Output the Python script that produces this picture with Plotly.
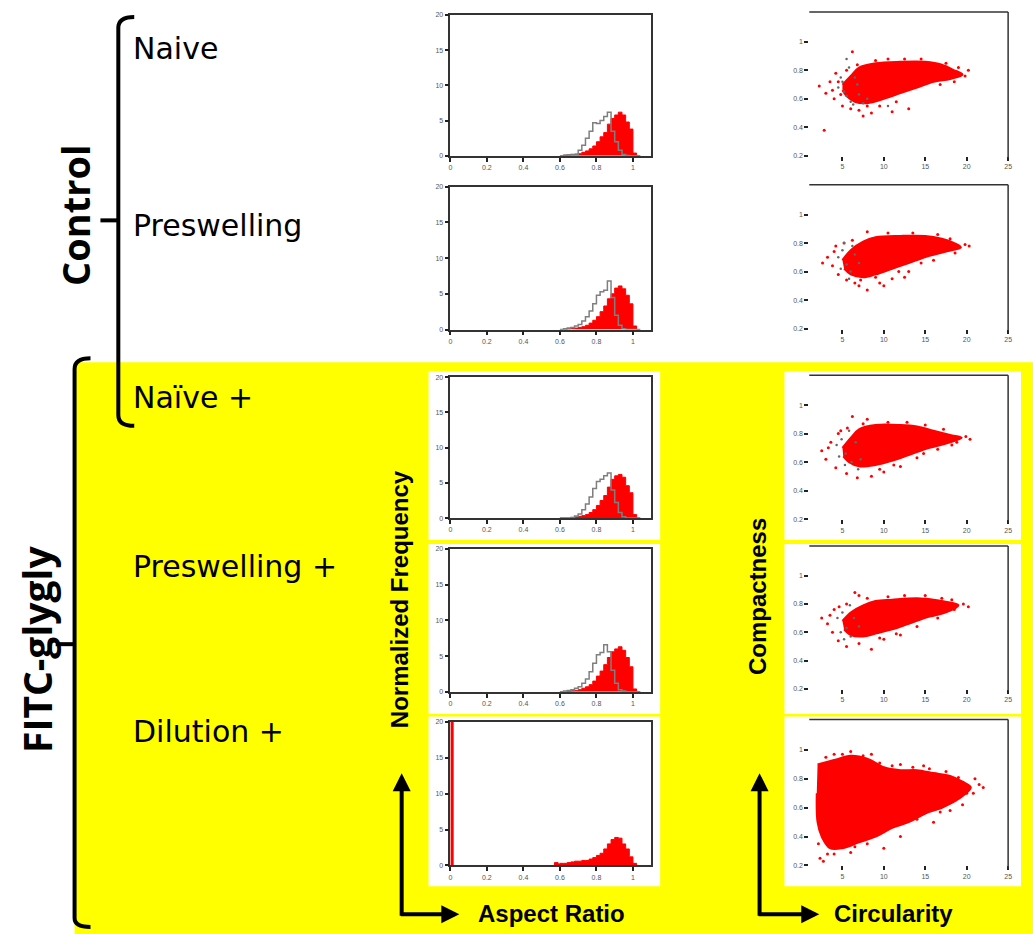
import plotly.graph_objects as go

W, H = 1033, 934

# ---------------- data ----------------
row_labels = ["Naive", "Preswelling", "Naïve +", "Preswelling +", "Dilution +"]
group_labels = ["Control", "FITC-glygly"]
hist_xticks = [0, 0.2, 0.4, 0.6, 0.8, 1]
hist_xtext = ["0", "0.2", "0.4", "0.6", "0.8", "1"]
hist_yticks = [0, 5, 10, 15, 20]
scat_xticks = [5, 10, 15, 20, 25]
scat_yticks = [0.2, 0.4, 0.6, 0.8, 1]
scat_ytext = ["0.2", "0.4", "0.6", "0.8", "1"]

# aspect ratio histogram bin edges (panels 1-4)
ar_edges = [0.60, 0.62, 0.64, 0.66, 0.68, 0.70, 0.72, 0.74, 0.76, 0.78, 0.80, 0.82,
            0.84, 0.86, 0.88, 0.90, 0.92, 0.94, 0.96, 0.98, 1.00, 1.02, 1.04]

naive_red = [0.0, 0.1, 0.15, 0.2, 0.25, 0.3, 0.5, 0.7, 1.0, 1.4, 2.0, 2.7, 3.3, 4.5, 5.3, 5.8, 6.2, 5.8, 4.8, 3.8, 0.4, 0.0]
naive_gray = [0.0, 0.1, 0.15, 0.2, 0.2, 0.8, 1.5, 2.5, 3.5, 4.7, 4.6, 5.0, 5.6, 6.2, 3.5, 2.0, 0.8, 0.2, 0.05, 0.0, 0.0, 0.0]
presw_red = [0.0, 0.0, 0.1, 0.15, 0.2, 0.3, 0.4, 0.6, 0.9, 1.3, 1.8, 2.5, 3.3, 4.3, 5.0, 5.8, 6.1, 5.7, 4.8, 3.6, 0.5, 0.0]
presw_gray = [0.0, 0.1, 0.2, 0.3, 0.5, 0.7, 1.2, 1.8, 2.6, 3.6, 4.8, 5.3, 5.5, 6.8, 4.5, 2.0, 0.6, 0.1, 0.0, 0.0, 0.0, 0.0]
naivep_red = [0.0, 0.0, 0.0, 0.1, 0.15, 0.25, 0.35, 0.5, 0.8, 1.2, 1.8, 2.5, 3.2, 4.4, 5.5, 6.0, 6.2, 5.8, 4.6, 3.6, 0.5, 0.0]
naivep_gray = [0.0, 0.0, 0.0, 0.1, 0.3, 0.6, 1.2, 2.0, 3.0, 4.2, 5.2, 5.5, 6.0, 6.4, 4.0, 2.2, 0.8, 0.2, 0.0, 0.0, 0.0, 0.0]
preswp_red = [0.0, 0.0, 0.1, 0.15, 0.2, 0.3, 0.5, 0.7, 1.0, 1.5, 2.2, 2.9, 3.8, 4.8, 5.6, 6.0, 6.3, 5.8, 4.8, 3.5, 0.4, 0.0]
preswp_gray = [0.0, 0.1, 0.2, 0.3, 0.5, 0.7, 1.2, 1.8, 2.8, 4.0, 5.2, 5.5, 6.6, 5.6, 3.0, 1.2, 0.3, 0.1, 0.0, 0.0, 0.0, 0.0]

dil_edges = [0.0, 0.015, 0.57, 0.59, 0.60, 0.62, 0.64, 0.66, 0.68, 0.70, 0.72, 0.74, 0.76, 0.78,
             0.80, 0.82, 0.84, 0.86, 0.88, 0.90, 0.92, 0.94, 0.96, 0.98, 1.00, 1.02, 1.04, 1.10]
dil_red = [22, 0, 0.4, 0.2, 0.3, 0.3, 0.4, 0.5, 0.6, 0.6, 0.7, 0.7, 0.9, 1.1, 1.4, 1.7, 2.3, 3.0,
           3.6, 3.9, 3.8, 3.0, 2.3, 1.2, 0.3, 0.0, 0.0]

# circularity / compactness clouds: dense core outline + scattered points
naive_core_x = [5.0, 6, 7, 9, 12, 15, 17, 18.5, 19.5, 18, 16, 14, 12, 10, 8, 6.5, 5.5, 5.0]
naive_core_y = [0.70, 0.76, 0.82, 0.85, 0.86, 0.86, 0.84, 0.80, 0.77, 0.74, 0.72, 0.68, 0.64, 0.60, 0.57, 0.58, 0.62, 0.66]
naive_pts_x = [2.2, 3, 2.8, 6.2, 5, 4, 7.5, 8.5, 11, 13, 20.2, 19.8, 19, 4.5, 3.8, 6, 9.5, 16, 18.5, 7,
               3.5, 4.2, 5.5, 6.8, 9, 10.5, 12.5, 14.5, 17.5, 18.8, 16.8, 8, 11.5, 4.8]
naive_pts_y = [0.69, 0.64, 0.38, 0.93, 0.55, 0.6, 0.48, 0.5, 0.51, 0.53, 0.8, 0.76, 0.82, 0.72, 0.66, 0.53, 0.55, 0.74, 0.72, 0.52,
               0.72, 0.78, 0.80, 0.84, 0.87, 0.88, 0.88, 0.88, 0.85, 0.79, 0.70, 0.55, 0.58, 0.63]
naive_gray_x = [4.5, 5, 5.5, 6, 6.5, 5.8, 7, 8, 6.3, 5.2, 4.8, 6.8, 10.5, 7.5, 5.5]
naive_gray_y = [0.68, 0.72, 0.62, 0.58, 0.75, 0.82, 0.63, 0.6, 0.56, 0.65, 0.75, 0.7, 0.55, 0.57, 0.88]

presw_core_x = [5.0, 6, 7.5, 9, 12, 15, 17, 18.5, 19.3, 17.5, 15.5, 13, 11, 9, 7.5, 6, 5.2]
presw_core_y = [0.68, 0.75, 0.81, 0.84, 0.85, 0.85, 0.83, 0.80, 0.77, 0.74, 0.71, 0.66, 0.62, 0.58, 0.56, 0.58, 0.62]
presw_pts_x = [3.2, 3.8, 4.5, 5.5, 7, 8, 9.5, 11, 13, 19.8, 20.3, 18.6, 8, 4, 16, 6.5, 10, 12.5,
               2.6, 4.2, 5.2, 6.2, 10.5, 13.5, 16.5, 18, 14.5, 9, 7.2, 11.8]
presw_pts_y = [0.70, 0.64, 0.58, 0.54, 0.50, 0.47, 0.52, 0.55, 0.6, 0.79, 0.78, 0.73, 0.88, 0.74, 0.68, 0.52, 0.5, 0.56,
               0.66, 0.78, 0.80, 0.82, 0.87, 0.87, 0.86, 0.83, 0.66, 0.56, 0.54, 0.6]
presw_gray_x = [4.5, 5, 5.5, 6, 5.2, 6.5, 4.8, 7, 5.8, 6.2]
presw_gray_y = [0.7, 0.75, 0.65, 0.6, 0.8, 0.72, 0.62, 0.66, 0.55, 0.78]

naivep_core_x = [5.0, 6, 7, 9, 12, 14, 16, 18, 19.4, 17.5, 15.5, 13, 11, 9, 7, 5.8, 5.1]
naivep_core_y = [0.70, 0.77, 0.83, 0.86, 0.86, 0.85, 0.82, 0.79, 0.77, 0.73, 0.70, 0.65, 0.61, 0.58, 0.57, 0.60, 0.64]
naivep_pts_x = [2.5, 3, 3.6, 4.2, 5.5, 6.8, 8.5, 10, 12, 6.2, 8, 19.9, 20.4, 18.8, 16.5, 14, 4.5,
                3.3, 4.8, 5.6, 7.5, 10.5, 12.8, 15, 17.2, 18.2, 9.5, 11.2, 14.8]
naivep_pts_y = [0.68, 0.62, 0.74, 0.56, 0.52, 0.49, 0.5, 0.53, 0.57, 0.92, 0.9, 0.78, 0.76, 0.74, 0.69, 0.63, 0.8,
                0.70, 0.82, 0.84, 0.87, 0.88, 0.88, 0.86, 0.83, 0.72, 0.55, 0.58, 0.66]
naivep_gray_x = [4.3, 4.9, 5.4, 6.1, 6.6, 5.3, 4.6, 7.2, 5.8, 6.9]
naivep_gray_y = [0.72, 0.76, 0.66, 0.6, 0.74, 0.58, 0.64, 0.62, 0.82, 0.55]

preswp_core_x = [5.0, 6, 7.5, 9, 11, 14, 16, 18, 19, 17.5, 15.5, 13, 11, 9, 7.5, 6, 5.2]
preswp_core_y = [0.68, 0.74, 0.79, 0.82, 0.83, 0.84, 0.83, 0.81, 0.79, 0.74, 0.71, 0.66, 0.62, 0.59, 0.57, 0.58, 0.62]
preswp_pts_x = [2.5, 3.2, 3.8, 4.5, 5.5, 7, 8.5, 10, 12, 19.6, 20.2, 18.5, 7, 16.5, 4, 6.5,
                3.5, 4.6, 5.5, 8, 10.5, 12.5, 15, 17, 18.2, 9.5, 11.5, 14]
preswp_pts_y = [0.7, 0.66, 0.6, 0.54, 0.5, 0.52, 0.48, 0.55, 0.58, 0.8, 0.78, 0.76, 0.86, 0.7, 0.76, 0.88,
                0.72, 0.78, 0.80, 0.84, 0.85, 0.86, 0.86, 0.84, 0.83, 0.56, 0.59, 0.64]
preswp_gray_x = [4.4, 5, 5.5, 6, 6.4, 4.8, 5.9, 7, 5.2]
preswp_gray_y = [0.7, 0.74, 0.63, 0.57, 0.7, 0.6, 0.79, 0.64, 0.55]

dil_core_x = [2.0, 4, 6, 8, 10, 12, 14, 16, 18, 19.5, 20.5, 19, 17, 15, 13, 11, 9, 7, 5, 3.5, 2.5, 2.0, 1.9]
dil_core_y = [0.90, 0.93, 0.96, 0.94, 0.88, 0.86, 0.86, 0.84, 0.82, 0.78, 0.74, 0.66, 0.60, 0.56, 0.50, 0.46, 0.40, 0.36, 0.32, 0.32, 0.40, 0.50, 0.70]
dil_pts_x = [2.3, 2.7, 3.2, 21.5, 22, 21, 4, 6, 3, 8.5, 12, 14.8, 10, 12, 16, 18, 4, 6, 20, 19.5,
             2.1, 5, 7.5, 9.5, 11, 13.5, 15.5, 17.5, 19, 20.8, 8, 6.5, 14, 16.8]
dil_pts_y = [0.25, 0.23, 0.28, 0.76, 0.74, 0.8, 0.97, 0.99, 0.95, 0.97, 0.90, 0.89, 0.32, 0.40, 0.5, 0.58, 0.28, 0.29, 0.70, 0.62,
             0.35, 0.97, 0.96, 0.91, 0.89, 0.88, 0.87, 0.85, 0.81, 0.70, 0.35, 0.33, 0.52, 0.57]

hist_series = [
    (ar_edges, naive_red, naive_gray),
    (ar_edges, presw_red, presw_gray),
    (ar_edges, naivep_red, naivep_gray),
    (ar_edges, preswp_red, preswp_gray),
    (dil_edges, dil_red, None),
]
scat_series = [
    (naive_core_x, naive_core_y, naive_pts_x, naive_pts_y, naive_gray_x, naive_gray_y),
    (presw_core_x, presw_core_y, presw_pts_x, presw_pts_y, presw_gray_x, presw_gray_y),
    (naivep_core_x, naivep_core_y, naivep_pts_x, naivep_pts_y, naivep_gray_x, naivep_gray_y),
    (preswp_core_x, preswp_core_y, preswp_pts_x, preswp_pts_y, preswp_gray_x, preswp_gray_y),
    (dil_core_x, dil_core_y, dil_pts_x, dil_pts_y, [], []),
]

# ---------------- layout geometry (pixels) ----------------
hist_rows = [(11, 153), (184, 328), (376, 518), (549, 693), (723, 868)]
scat_rows = [(8, 153), (182, 327), (374, 519), (546, 690), (721, 868)]
HX = (451, 653)
SX = (812, 1012)


def fx(p):
    return p / W


def fy(p):
    return 1 - p / H


def step(edges, vals):
    return list(edges), list(vals) + [vals[-1]]


fig = go.Figure()
tickfont = dict(family="Liberation Sans", size=7, color="#555")
layout = dict(width=W, height=H, margin=dict(l=0, r=0, t=0, b=0),
              paper_bgcolor="white", plot_bgcolor="rgba(0,0,0,0)", showlegend=False)

for i, (edges, red, gray) in enumerate(hist_series):
    n = i + 1
    xa, ya = ("x" if n == 1 else f"x{n}"), ("y" if n == 1 else f"y{n}")
    sx, sy = step(edges, red)
    fig.add_trace(go.Scatter(x=sx, y=sy, mode="lines", line=dict(shape="hv", color="red", width=1),
                             fill="tozeroy", fillcolor="red", xaxis=xa, yaxis=ya, hoverinfo="skip"))
    if gray is not None:
        gx, gy = step(edges, gray)
        fig.add_trace(go.Scatter(x=gx, y=gy, mode="lines", line=dict(shape="hv", color="#7f7f7f", width=1.5),
                                 xaxis=xa, yaxis=ya, hoverinfo="skip"))
    top, bot = hist_rows[i]
    layout["xaxis" if n == 1 else f"xaxis{n}"] = dict(
        domain=[fx(HX[0]), fx(HX[1])], range=[0, 1.1], anchor=ya, tickvals=hist_xticks, ticktext=hist_xtext,
        showline=True, mirror=True, linecolor="#333", linewidth=1.5, ticks="outside", ticklen=4,
        tickwidth=1.5, tickcolor="#222", showgrid=False, zeroline=False, tickfont=tickfont)
    layout["yaxis" if n == 1 else f"yaxis{n}"] = dict(
        domain=[fy(bot), fy(top)], range=[0, 20], anchor=xa, tickvals=hist_yticks,
        showline=True, mirror=True, linecolor="#333", linewidth=1.5, ticks="outside", ticklen=4,
        tickwidth=1.5, tickcolor="#222", showgrid=False, zeroline=False, tickfont=tickfont)

shapes = []
# yellow background and white panel boxes
shapes.append(dict(type="rect", xref="paper", yref="paper", x0=fx(73), x1=1.01, y0=-0.01, y1=fy(361),
                   fillcolor="#ffff00", line=dict(width=0), layer="below"))
for (t, b) in [(370, 540), (544, 715), (718, 889)]:
    shapes.append(dict(type="rect", xref="paper", yref="paper", x0=fx(429), x1=fx(662), y0=fy(b), y1=fy(t),
                       fillcolor="white", line=dict(width=0), layer="below"))
    shapes.append(dict(type="rect", xref="paper", yref="paper", x0=fx(787), x1=fx(1025), y0=fy(b), y1=fy(t),
                       fillcolor="white", line=dict(width=0), layer="below"))

for i, (cx, cy, px_, py_, gx, gy) in enumerate(scat_series):
    n = i + 6
    xa, ya = f"x{n}", f"y{n}"
    fig.add_trace(go.Scatter(x=cx, y=cy, mode="lines", fill="toself", fillcolor="red",
                             line=dict(color="red", width=2, shape="spline"), xaxis=xa, yaxis=ya, hoverinfo="skip"))
    fig.add_trace(go.Scatter(x=px_, y=py_, mode="markers", marker=dict(color="red", size=3),
                             xaxis=xa, yaxis=ya, hoverinfo="skip"))
    if gx:
        fig.add_trace(go.Scatter(x=gx, y=gy, mode="markers", marker=dict(color="#666", size=2.5),
                                 xaxis=xa, yaxis=ya, hoverinfo="skip"))
    top, bot = scat_rows[i]
    layout[f"xaxis{n}"] = dict(
        domain=[fx(SX[0]), fx(SX[1])], range=[1, 25], anchor=ya, tickvals=scat_xticks,
        showline=False, ticks="outside", ticklen=4, tickwidth=1.5, tickcolor="#222",
        showgrid=False, zeroline=False, tickfont=tickfont)
    layout[f"yaxis{n}"] = dict(
        domain=[fy(bot), fy(top)], range=[0.2, 1.21], anchor=xa, tickvals=scat_yticks, ticktext=scat_ytext,
        showline=False, ticks="outside", ticklen=4, tickwidth=1.5, tickcolor="#222",
        showgrid=False, zeroline=False, tickfont=tickfont)
    shapes.append(dict(type="line", xref=f"x{n} domain", yref=f"y{n} domain", x0=0, x1=1, y0=1, y1=1,
                       line=dict(color="#333", width=1.5)))
    shapes.append(dict(type="line", xref=f"x{n} domain", yref=f"y{n} domain", x0=1, x1=1, y0=-0.015, y1=1,
                       line=dict(color="#333", width=1.5)))


def ppath(pts):
    out = []
    for cmd, coords in pts:
        out.append(cmd + " " + " ".join(f"{fx(a):.5f},{fy(b):.5f}" for a, b in coords))
    return " ".join(out)


# brackets
brk = dict(color="black", width=4)
shapes.append(dict(type="path", xref="paper", yref="paper", line=brk,
                   path=ppath([("M", [(133, 13)]), ("Q", [(117, 13), (117, 24)]), ("L", [(117, 414)]),
                               ("Q", [(117, 425), (133, 425)])])))
shapes.append(dict(type="path", xref="paper", yref="paper", line=brk,
                   path=ppath([("M", [(99, 218)]), ("L", [(117, 218)])])))
shapes.append(dict(type="path", xref="paper", yref="paper", line=brk,
                   path=ppath([("M", [(89, 357)]), ("Q", [(73, 357), (73, 368)]), ("L", [(73, 921)]),
                               ("Q", [(73, 930), (89, 930)])])))
shapes.append(dict(type="path", xref="paper", yref="paper", line=brk,
                   path=ppath([("M", [(54, 645)]), ("L", [(73, 645)])])))
layout["shapes"] = shapes

ann = []
row_y = [45, 223, 396, 567, 733]
for lab, yy in zip(row_labels, row_y):
    ann.append(dict(text=lab, x=fx(130), y=fy(yy), xref="paper", yref="paper", xanchor="left", yanchor="middle",
                    showarrow=False, font=dict(family="DejaVu Sans", size=30, color="black")))
ann.append(dict(text="<b>" + group_labels[0] + "</b>", x=fx(74), y=fy(213), xref="paper", yref="paper",
                xanchor="center", yanchor="middle",
                textangle=-90, showarrow=False, font=dict(family="Open Sans", size=38, color="black")))
ann.append(dict(text="<b>" + group_labels[1] + "</b>", x=fx(34), y=fy(650), xref="paper", yref="paper",
                xanchor="center", yanchor="middle",
                textangle=-90, showarrow=False, font=dict(family="Open Sans", size=39, color="black")))
bfont = dict(family="Liberation Sans", size=24, color="black")
ann.append(dict(text="<b>Normalized Frequency</b>", x=fx(400), y=fy(600), xref="paper", yref="paper",
                xanchor="center", yanchor="middle", textangle=-90, showarrow=False, font=bfont))
ann.append(dict(text="<b>Compactness</b>", x=fx(760), y=fy(597), xref="paper", yref="paper",
                xanchor="center", yanchor="middle", textangle=-90, showarrow=False, font=bfont))
ann.append(dict(text="<b>Aspect Ratio</b>", x=fx(477), y=fy(916), xref="paper", yref="paper",
                xanchor="left", yanchor="middle", showarrow=False, font=bfont))
ann.append(dict(text="<b>Circularity</b>", x=fx(835), y=fy(916), xref="paper", yref="paper",
                xanchor="left", yanchor="middle", showarrow=False, font=bfont))
# arrows
for vx, hx in [(402, 460), (762, 822)]:
    ann.append(dict(text="", x=fx(vx), y=fy(775), xref="paper", yref="paper", showarrow=True,
                    ax=0, ay=144, arrowhead=2, arrowsize=0.9, arrowwidth=4, arrowcolor="black", standoff=0))
    ann.append(dict(text="", x=fx(hx), y=fy(917), xref="paper", yref="paper", showarrow=True,
                    ax=-(hx - vx + 2), ay=0, arrowhead=2, arrowsize=0.9, arrowwidth=4, arrowcolor="black", standoff=0))
layout["annotations"] = ann

fig.update_layout(**layout)
fig.write_html("out.html", config={"displayModeBar": False},
               post_script="document.body.style.margin='0';document.body.style.overflow='hidden';")
